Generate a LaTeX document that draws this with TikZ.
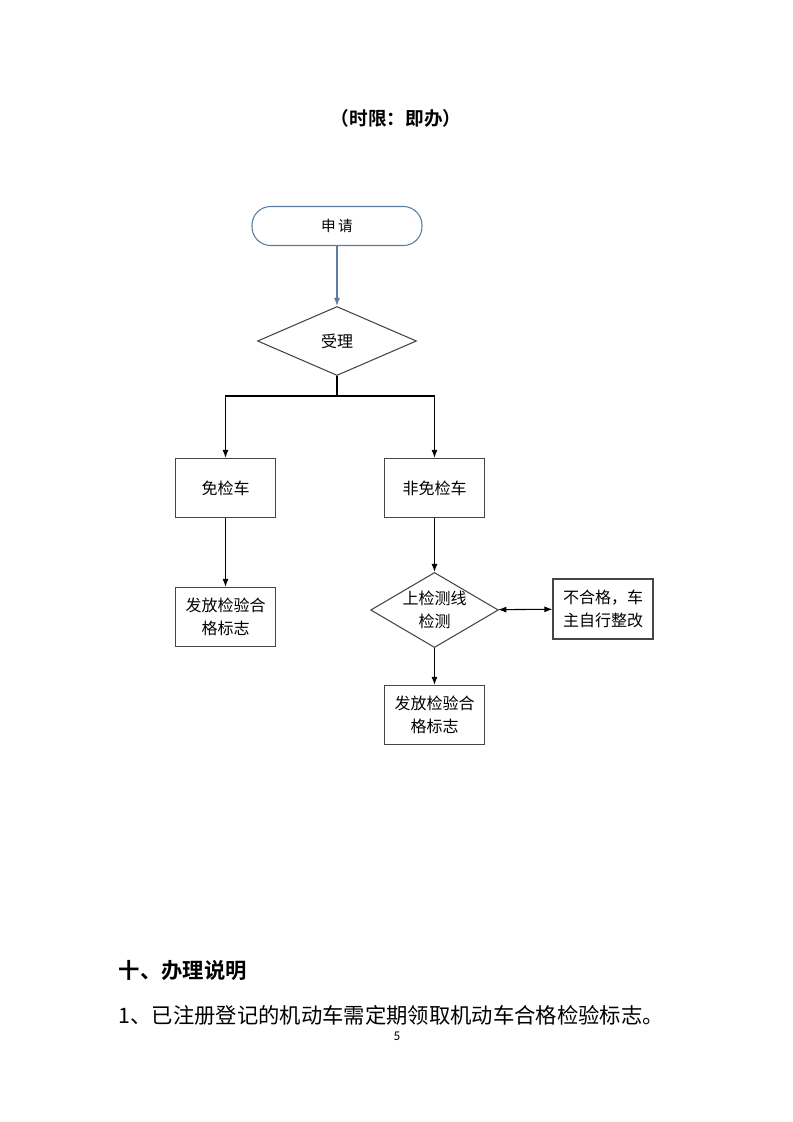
\documentclass[tikz,border=0pt]{standalone}
\usepackage{fontspec}
\setmainfont{Noto Sans CJK SC}[BoldFont={Noto Sans CJK SC Bold}]
\newfontfamily\pagefont{Carlito}
\usetikzlibrary{arrows.meta}
\usetikzlibrary{shapes.geometric}

\definecolor{startblue}{RGB}{92,124,160}
\definecolor{boxgray}{RGB}{70,70,70}

\tikzset{
    startbox/.style={draw=startblue, line width=0.8pt, rectangle, rounded corners=14pt,
        minimum width=127.5pt, minimum height=29.25pt, font=\fontsize{11}{13}\selectfont},
    stepbox/.style={draw=boxgray, line width=0.8pt, rectangle,
        minimum width=75pt, minimum height=44.5pt, inner sep=1pt, align=center,
        font=\fontsize{12}{17}\selectfont},
    decide/.style={draw=boxgray, line width=0.8pt, diamond, aspect=2, inner sep=0pt,
        align=center, font=\fontsize{12}{17}\selectfont},
}

\begin{document}
\begin{tikzpicture}[x=0.75pt, y=-0.75pt, >={Latex[length=6pt,width=4.5pt]}]
    \useasboundingbox (0,0) rectangle (793,1122);
    \node (T) at (396,118) {\fontsize{14}{16}\selectfont\bfseries （时限：即办）};
    \node (A) [startbox] at (337,226) {申\,请};
    \node (B) [decide, minimum width=119.25pt, minimum height=51.75pt] at (337,341) {受理};
    \coordinate (S) at (337,396);
    \node (C) [stepbox] at (225.5,488) {免检车};
    \node (D) [stepbox] at (434.5,488) {非免检车};
    \node (E) [stepbox] at (225.5,617) {发放检验合\\格标志};
    \node (F) [decide, aspect=1.7, minimum width=93.75pt, minimum height=55.5pt] at (434.5,610) {上检测线\\检测};
    \node (G) [stepbox, minimum height=45pt] at (603,609) {不合格，车\\主自行整改};
    \node (H) [stepbox] at (434.5,715) {发放检验合\\格标志};
    \path[draw, ->, startblue, line width=0.8pt] (A) -- (B);
    \path[draw, line width=0.8pt] (B) -- (S);
    \path[draw, ->, line width=0.8pt] (S) -| (C);
    \path[draw, ->, line width=0.8pt] (S) -| (D);
    \path[draw, ->, line width=0.8pt] (C) -- (E);
    \path[draw, ->, line width=0.8pt] (D) -- (F);
    \path[draw, ->, line width=0.8pt] (F) -- (H);
    \path[draw, <->, line width=0.8pt] (F) -- (G);
    \node (X) [anchor=west] at (114,970) {\fontsize{16}{18}\selectfont\bfseries 十、办理说明};
    \node (Y) [anchor=west] at (114,1015) {\fontsize{16}{18}\selectfont 1、已注册登记的机动车需定期领取机动车合格检验标志。};
    \node (N) at (397,1036) {\pagefont\fontsize{10}{12}\selectfont 5};
\end{tikzpicture}
\end{document}
